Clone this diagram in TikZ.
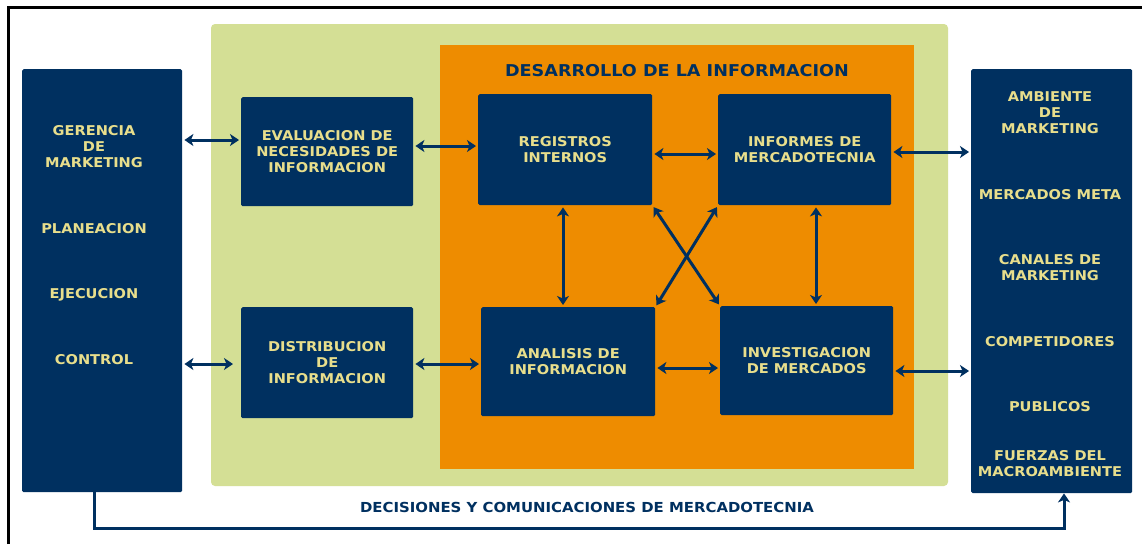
\documentclass[tikz,border=0pt]{standalone}
\usepackage{fontspec}
\setmainfont[FakeStretch=1.08]{DejaVu Sans}
\usetikzlibrary{arrows.meta}
\definecolor{navy}{RGB}{0,48,96}
\definecolor{txt}{RGB}{232,222,140}
\definecolor{leaf}{RGB}{212,223,149}
\definecolor{org}{RGB}{238,140,0}
\begin{document}
\begin{tikzpicture}[x=1pt,y=-1pt,
  box/.style={fill=navy, draw=none, rounded corners=1.5pt, inner sep=0pt, anchor=north west,
    text=txt, align=center, font=\bfseries\fontsize{13.5}{16}\selectfont},
  lab/.style={text=txt, align=center, inner sep=0pt, font=\bfseries\fontsize{13.5}{16}\selectfont},
  tip/.style={Stealth[length=9pt,width=12pt,inset=2.5pt]},
  arr/.style={{Stealth[length=9pt,width=12pt,inset=2.5pt]}-{Stealth[length=9pt,width=12pt,inset=2.5pt]}, line width=3pt, draw=navy, shorten >=2pt, shorten <=2pt},
  ]
\useasboundingbox (0,0) rectangle (1142,544);
\fill[white] (0,0) rectangle (1142,544);
% frame (top and left only)
\draw[line width=3pt, black] (8,544) -- (8,7) -- (1142,7);
% panels
\fill[leaf, rounded corners=4pt] (211,486) -- (211,24) -- (948,24) -- (948,486) -- cycle;
\node[fill=org, inner sep=0pt, anchor=north west, minimum width=474pt, minimum height=424pt] (des) at (440,45) {};
\node[text=navy, inner sep=0pt, font=\bfseries\fontsize{16.3}{18}\selectfont] (title) at (677,71) {DESARROLLO DE LA INFORMACION};
% big side boxes
\node[box, minimum width=160pt, minimum height=423pt] (gm) at (22,69) {};
\node[box, minimum width=161pt, minimum height=424pt] (amb) at (971,69) {};
% left texts
\node[lab] (g1) at (94,147) {GERENCIA\\DE\\MARKETING};
\node[lab] (g2) at (94,229) {PLANEACION};
\node[lab] (g3) at (94,295) {EJECUCION};
\node[lab] (g4) at (94,360) {CONTROL};
% right texts
\node[lab] (r1) at (1050,113) {AMBIENTE\\DE\\MARKETING};
\node[lab] (r2) at (1050,195) {MERCADOS META};
\node[lab] (r3) at (1050,268) {CANALES DE\\MARKETING};
\node[lab] (r4) at (1050,342) {COMPETIDORES};
\node[lab] (r5) at (1050,407) {PUBLICOS};
\node[lab] (r6) at (1050,464) {FUERZAS DEL\\MACROAMBIENTE};
% inner boxes
\node[box, minimum width=172pt, minimum height=109pt] (eval) at (241,97) {EVALUACION DE\\NECESIDADES DE\\INFORMACION};
\node[box, minimum width=172pt, minimum height=111pt] (dist) at (241,307) {DISTRIBUCION\\DE\\INFORMACION};
\node[box, minimum width=174pt, minimum height=111pt] (reg) at (478,94) {REGISTROS\\INTERNOS};
\node[box, minimum width=173pt, minimum height=111pt] (inf) at (718,94) {INFORMES DE\\MERCADOTECNIA};
\node[box, minimum width=174pt, minimum height=109pt] (ana) at (481,307) {ANALISIS DE\\INFORMACION};
\node[box, minimum width=173pt, minimum height=109pt] (inv) at (720,306) {INVESTIGACION\\DE MERCADOS};
% connectors
\draw[arr] (gm.east |- 0,140) -- (eval.west |- 0,140);
\draw[arr, shorten >=8pt] (gm.east |- 0,364) -- (dist.west |- 0,364);
\draw[arr] (eval.east |- 0,146) -- (reg.west |- 0,146);
\draw[arr] (dist.east |- 0,364) -- (ana.west |- 0,364);
\draw[arr] (reg.east |- 0,154) -- (inf.west |- 0,154);
\draw[arr] (ana.east |- 0,368) -- (inv.west |- 0,368);
\draw[arr] (inf.east |- 0,152) -- (amb.west |- 0,152);
\draw[arr] (inv.east |- 0,371) -- (amb.west |- 0,371);
\draw[arr] (reg.south -| 563,0) -- (ana.north -| 563,0);
\draw[arr] (inf.south -| 816,0) -- (inv.north -| 816,0);
\draw[arr] (reg.south east) -- (inv.north west);
\draw[arr] (inf.south west) -- (ana.north east);
% feedback
\draw[line width=3pt, navy, -{Stealth[length=9pt,width=12pt,inset=2.5pt]}] (gm.south -| 94,0) -- ++(0,36) -| (amb.south -| 1064,0);
\node[text=navy, inner sep=0pt, font=\bfseries\fontsize{13.8}{15}\selectfont] (lbl) at (587,507) {DECISIONES Y COMUNICACIONES DE MERCADOTECNIA};
\end{tikzpicture}
\end{document}
